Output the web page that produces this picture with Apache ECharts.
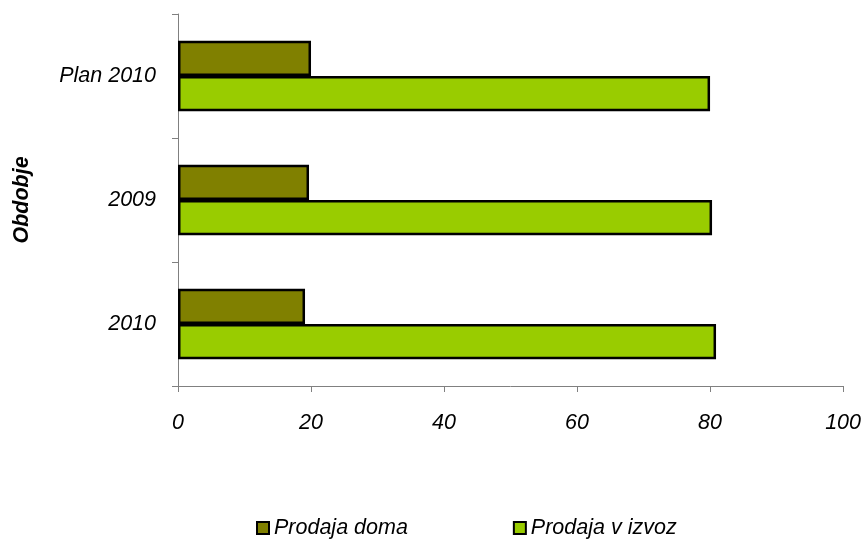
<!DOCTYPE html>
<html>
<head>
<meta charset="utf-8">
<script src="https://cdn.jsdelivr.net/npm/echarts@6/dist/echarts.min.js"></script>
<style>html,body{margin:0;padding:0;background:#fff}#c{width:864px;height:547px}</style>
</head>
<body>
<div id="c"></div>
<script>
const categories = ['2010', '2009', 'Plan 2010'];
const seriesNames = ['Prodaja doma', 'Prodaja v izvoz'];
const prodajaDoma = [19.1, 19.7, 20.0];
const prodajaIzvoz = [80.9, 80.3, 80.0];
const xTicks = [0, 20, 40, 60, 80, 100];
const axisTitle = 'Obdobje';

const font = 'Liberation Sans, Arial, sans-serif';
const fs = 21.5;
const chart = echarts.init(document.getElementById('c'), null, {renderer: 'canvas'});
chart.setOption({
  animation: false,
  backgroundColor: '#fff',
  grid: {left: 178, right: 20, top: 14, bottom: 161, containLabel: false},
  legend: {
    data: seriesNames,
    left: 251, bottom: 3,
    itemWidth: 12, itemHeight: 12, itemGap: 105,
    icon: 'rect',
    textStyle: {fontFamily: font, fontSize: fs, fontStyle: 'italic', color: '#000'}
  },
  xAxis: {
    type: 'value', min: xTicks[0], max: xTicks[xTicks.length-1], interval: 20,
    axisLine: {show: true, lineStyle: {color: '#808080', width: 1}},
    axisTick: {show: true, length: 6, inside: false, lineStyle: {color: '#808080'}},
    splitLine: {show: false},
    axisLabel: {margin: 26, fontFamily: font, fontSize: fs, fontStyle: 'italic', color: '#000'}
  },
  yAxis: {
    type: 'category', data: categories,
    name: axisTitle, nameLocation: 'middle', nameGap: 145,
    nameTextStyle: {fontFamily: font, fontSize: fs, fontStyle: 'italic', fontWeight: 'bold', color: '#000'},
    axisLine: {show: true, lineStyle: {color: '#808080', width: 1}},
    axisTick: {show: true, length: 6, inside: false, lineStyle: {color: '#808080'}},
    axisLabel: {margin: 22, fontFamily: font, fontSize: fs, fontStyle: 'italic', color: '#000'}
  },
  series: [
    {name: seriesNames[0], type: 'bar', data: prodajaDoma, barGap: '0%', barCategoryGap: '43%',
     itemStyle: {color: '#808000', borderColor: '#000', borderWidth: 2.5}},
    {name: seriesNames[1], type: 'bar', data: prodajaIzvoz, barGap: '0%', barCategoryGap: '43%',
     itemStyle: {color: '#99CC00', borderColor: '#000', borderWidth: 2.5}}
  ]
});
</script>
</body>
</html>
